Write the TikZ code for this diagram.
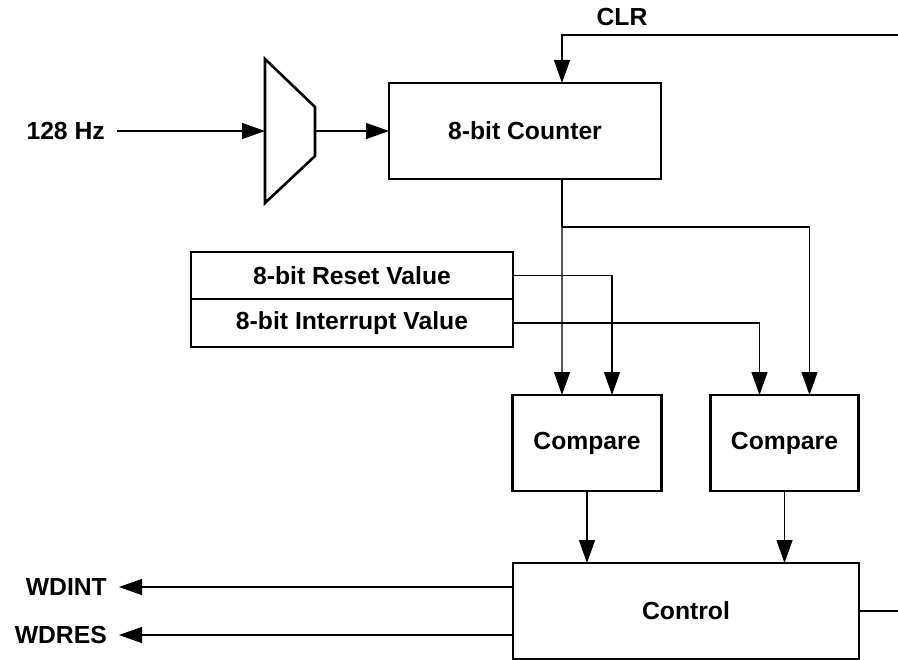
\documentclass[tikz,border=0pt]{standalone}
\usepackage{fontspec}
\setmainfont{Liberation Sans}
\usetikzlibrary{arrows.meta, positioning}

\begin{document}
\begin{tikzpicture}[x=1bp, y=-1bp,
  every node/.style={font=\fontsize{24.8}{29}\selectfont\bfseries},
  >={Triangle[length=23bp, width=16bp]},
  blk/.style={draw, rectangle, line width=2.6bp, inner sep=0pt, outer sep=0pt},
  wire/.style={line width=1.3bp},
  sig/.style={wire, ->},
  lbl/.style={inner xsep=12bp, inner ysep=0pt}]
  \useasboundingbox (0,0) rectangle (898,660);

  % clock input and prescaler
  \node[lbl, anchor=east] (clk) at (117,131) {128 Hz};
  \draw[line width=2.6bp, line join=miter] (265,59) -- (315,107) -- (315,156) -- (265,203) -- cycle;
  \coordinate (muxin) at (265,131);
  \coordinate (muxout) at (315,131);
  \draw[sig] (clk.east) -- (muxin);

  % counter with clear input
  \node[blk, minimum width=272bp, minimum height=96bp] (cnt) at (525,131) {8-bit Counter};
  \draw[sig] (muxout) -- (cnt.west);
  \node (clrlbl) at (622,17) {CLR};
  \coordinate (clr) at (898,35);
  \coordinate (cntin) at (562,83);
  \draw[sig] (clr) -| (cntin);

  % reset / interrupt value registers
  \node[blk, minimum width=322bp, minimum height=47bp] (rst) at (352,275.5) {8-bit Reset Value};
  \node[blk, minimum width=322bp, minimum height=48bp, below=0pt of rst] (irq) {8-bit Interrupt Value};

  % comparators
  \node[blk, minimum width=149bp, minimum height=96bp] (cmpa) at (587,443) {Compare};
  \node[blk, minimum width=148bp, minimum height=96bp, right=49bp of cmpa] (cmpb) {Compare};
  \coordinate (split) at (562,227);
  \draw[wire] (cnt.south -| cntin) -- (split);
  \draw[sig] (split) -- ([xshift=-25bp]cmpa.north);
  \draw[sig] (split) -| ([xshift=25bp]cmpb.north);
  \draw[sig] (rst.east) -| ([xshift=25bp]cmpa.north);
  \draw[sig] (irq.east) -| ([xshift=-25bp]cmpb.north);

  % control block and outputs
  \node[blk, minimum width=346bp, minimum height=96bp] (ctl) at (686,611) {Control};
  \draw[sig] (cmpa) -- (cmpa |- ctl.north);
  \draw[sig] (cmpb) -- (cmpb |- ctl.north);
  \coordinate (ctlout) at (898,611);
  \draw[wire] (ctl.east) -- (ctlout);
  \node[lbl, anchor=east] (wdint) at (119,587) {WDINT};
  \node[lbl, anchor=east] (wdres) at (119,635) {WDRES};
  \draw[sig] (ctl.west |- wdint) -- (wdint.east);
  \draw[sig] (ctl.west |- wdres) -- (wdres.east);
\end{tikzpicture}
\end{document}
